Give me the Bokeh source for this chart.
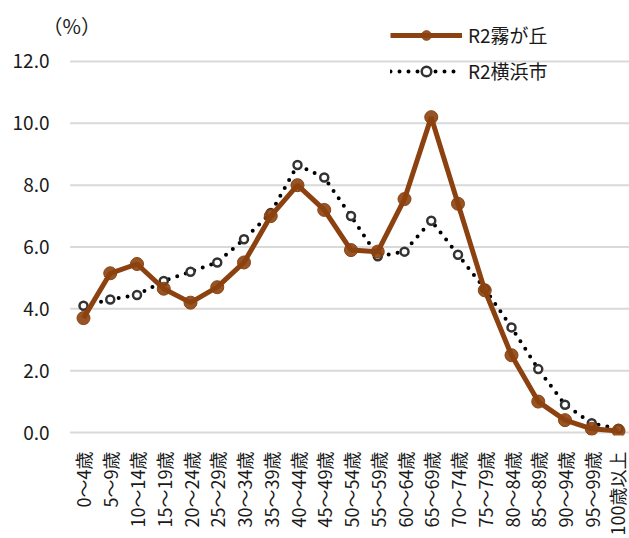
import math
from bokeh.plotting import figure
from bokeh.models import FixedTicker, NumeralTickFormatter, Legend, LegendItem, Label, Range1d
from bokeh.embed import file_html
from bokeh.resources import INLINE

categories = ["0～4歳", "5～9歳", "10～14歳", "15～19歳", "20～24歳", "25～29歳",
              "30～34歳", "35～39歳", "40～44歳", "45～49歳", "50～54歳", "55～59歳",
              "60～64歳", "65～69歳", "70～74歳", "75～79歳", "80～84歳", "85～89歳",
              "90～94歳", "95～99歳", "100歳以上"]
kirigaoka = [3.7, 5.15, 5.45, 4.65, 4.2, 4.7, 5.5, 7.0, 8.0, 7.2, 5.9, 5.85,
             7.55, 10.2, 7.4, 4.6, 2.5, 1.0, 0.4, 0.12, 0.05]
yokohama = [4.1, 4.3, 4.45, 4.9, 5.2, 5.5, 6.25, 7.1, 8.65, 8.25, 7.0, 5.7,
            5.85, 6.85, 5.75, 4.65, 3.4, 2.05, 0.9, 0.3, 0.12]
y_ticks = [0, 2, 4, 6, 8, 10, 12]
series_names = ["R2霧が丘", "R2横浜市"]
unit_label = "（%）"

FONT = "Noto Sans CJK JP"
BROWN = "#8C4210"
TXT = "#1a1a1a"

xs = list(range(len(categories)))

p = figure(width=629, height=538, output_backend="svg", toolbar_location=None,
           x_range=Range1d(-1.0467, 20.411), y_range=Range1d(-0.097, 13.973),
           min_border_left=55, min_border_right=0, min_border_top=0, min_border_bottom=103)
p.outline_line_color = None
p.background_fill_color = "white"

# horizontal gridlines spanning the category bands
p.segment(x0=[-0.5] * len(y_ticks), x1=[len(categories) - 0.5] * len(y_ticks),
          y0=y_ticks, y1=y_ticks, line_color="#d9d9d9", line_width=2)

# Yokohama (dotted)
ly = p.line(xs, yokohama, line_color="black", line_width=4, line_dash="0 9",
            line_cap="round")
cy = p.scatter(xs, yokohama, size=8, marker="circle", fill_color="white",
               line_color="#333333", line_width=2.5)
# Kirigaoka
lk = p.line(xs, kirigaoka, line_color=BROWN, line_width=5)
ck = p.scatter(xs, kirigaoka, size=13, marker="circle", fill_color=BROWN,
               line_color=BROWN, fill_alpha=0.9)

p.xgrid.grid_line_color = None
p.ygrid.grid_line_color = None

p.yaxis.ticker = FixedTicker(ticks=y_ticks)
p.yaxis.formatter = NumeralTickFormatter(format="0.0")
p.yaxis.axis_line_color = None
p.yaxis.major_tick_line_color = None
p.yaxis.minor_tick_line_color = None
p.yaxis.major_label_text_font = FONT
p.yaxis.major_label_text_font_size = "19px"
p.yaxis.major_label_text_color = TXT
p.yaxis.major_label_standoff = 0

p.xaxis.ticker = FixedTicker(ticks=xs)
p.xaxis.major_label_overrides = {i: c for i, c in zip(xs, categories)}
p.xaxis.axis_line_color = None
p.xaxis.major_tick_line_color = None
p.xaxis.minor_tick_line_color = None
p.xaxis.major_label_orientation = math.pi / 2
p.xaxis.major_label_text_font = FONT
p.xaxis.major_label_text_font_size = "18px"
p.xaxis.major_label_text_color = TXT
p.xaxis.major_label_standoff = 10

p.add_layout(Label(x=-1.533, y=13.164, text=unit_label, text_font=FONT, text_font_size="20px",
                   text_color=TXT, text_baseline="middle", text_align="left"))

legend = Legend(items=[LegendItem(label=series_names[0], renderers=[lk, ck]),
                       LegendItem(label=series_names[1], renderers=[ly, cy])],
                location=(335, 351), padding=0, margin=0, spacing=9,
                glyph_width=72, glyph_height=24, label_height=24,
                label_text_font=FONT, label_text_font_size="19px",
                label_text_color=TXT, label_standoff=6,
                border_line_color=None, background_fill_alpha=0)
p.add_layout(legend)

open("out.html", "w").write(file_html(p, INLINE))
